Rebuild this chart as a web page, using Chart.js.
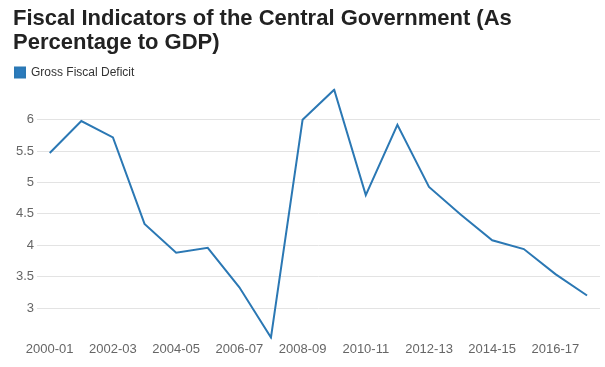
<!DOCTYPE html>
<html lang="en">
  <head>
    <meta charset="UTF-8" />
    <title>Fiscal Indicators</title>
    <script src="https://cdn.jsdelivr.net/npm/chart.js"></script>
    <style>
      body { margin: 0; background: #fff; }
    </style>
  </head>
  <body>
    <canvas id="fiscalChart" width="605" height="367"></canvas>
    <script>
      const years = [
        '2000-01', '2001-02', '2002-03', '2003-04', '2004-05', '2005-06',
        '2006-07', '2007-08', '2008-09', '2009-10', '2010-11', '2011-12',
        '2012-13', '2013-14', '2014-15', '2015-16', '2016-17', '2017-18'
      ];
      const grossFiscalDeficit = [
        5.47, 5.98, 5.72, 4.34, 3.88, 3.96, 3.33, 2.53, 6.0,
        6.48, 4.8, 5.92, 4.93, 4.49, 4.08, 3.94, 3.54, 3.2
      ];
      const yTicks = [3, 3.5, 4, 4.5, 5, 5.5, 6];
      const titleLines = ['Fiscal Indicators of the Central Government (As', 'Percentage to GDP)'];

      const font = "'Liberation Sans', Arial, sans-serif";

      // x is the year index, so the plot can keep a small margin at both ends
      const points = grossFiscalDeficit.map((v, i) => ({ x: i, y: v }));

      const ctx = document.getElementById('fiscalChart').getContext('2d');
      new Chart(ctx, {
        type: 'line',
        data: {
          datasets: [
            {
              label: 'Gross Fiscal Deficit',
              data: points,
              borderColor: '#2b78b4',
              backgroundColor: '#2b7bbd',
              borderWidth: 2,
              pointRadius: 0,
              tension: 0
            }
          ]
        },
        options: {
          responsive: false,
          animation: false,
          layout: { padding: { left: 13, right: 5, bottom: 8 } },
          plugins: {
            title: {
              display: true,
              text: titleLines,
              align: 'start',
              color: '#222',
              font: { family: font, size: 22, weight: 'bold', lineHeight: 1.1 },
              padding: { top: 7, bottom: 9 }
            },
            legend: {
              align: 'start',
              labels: {
                boxWidth: 10,
                boxHeight: 10,
                padding: 2,
                color: '#333',
                font: { family: font, size: 12 }
              }
            },
            tooltip: { enabled: false }
          },
          scales: {
            x: {
              type: 'linear',
              min: -0.4,
              max: 17.41,
              grid: { display: false, drawTicks: false },
              border: { display: false },
              afterBuildTicks: (scale) => {
                scale.ticks = years.map((_, i) => ({ value: i })).filter((t) => t.value % 2 === 0);
              },
              ticks: {
                maxRotation: 0,
                autoSkip: false,
                padding: 2,
                color: '#666',
                font: { family: font, size: 13 },
                callback: (v) => years[v]
              }
            },
            y: {
              min: 2.5,
              max: 6.5,
              border: { display: false },
              afterBuildTicks: (scale) => {
                scale.ticks = yTicks.map((v) => ({ value: v }));
              },
              grid: { color: '#e3e3e3', drawTicks: false },
              ticks: {
                padding: 3,
                color: '#666',
                font: { family: font, size: 13 },
                callback: (v) => String(v)
              }
            }
          }
        }
      });
    </script>
  </body>
</html>
